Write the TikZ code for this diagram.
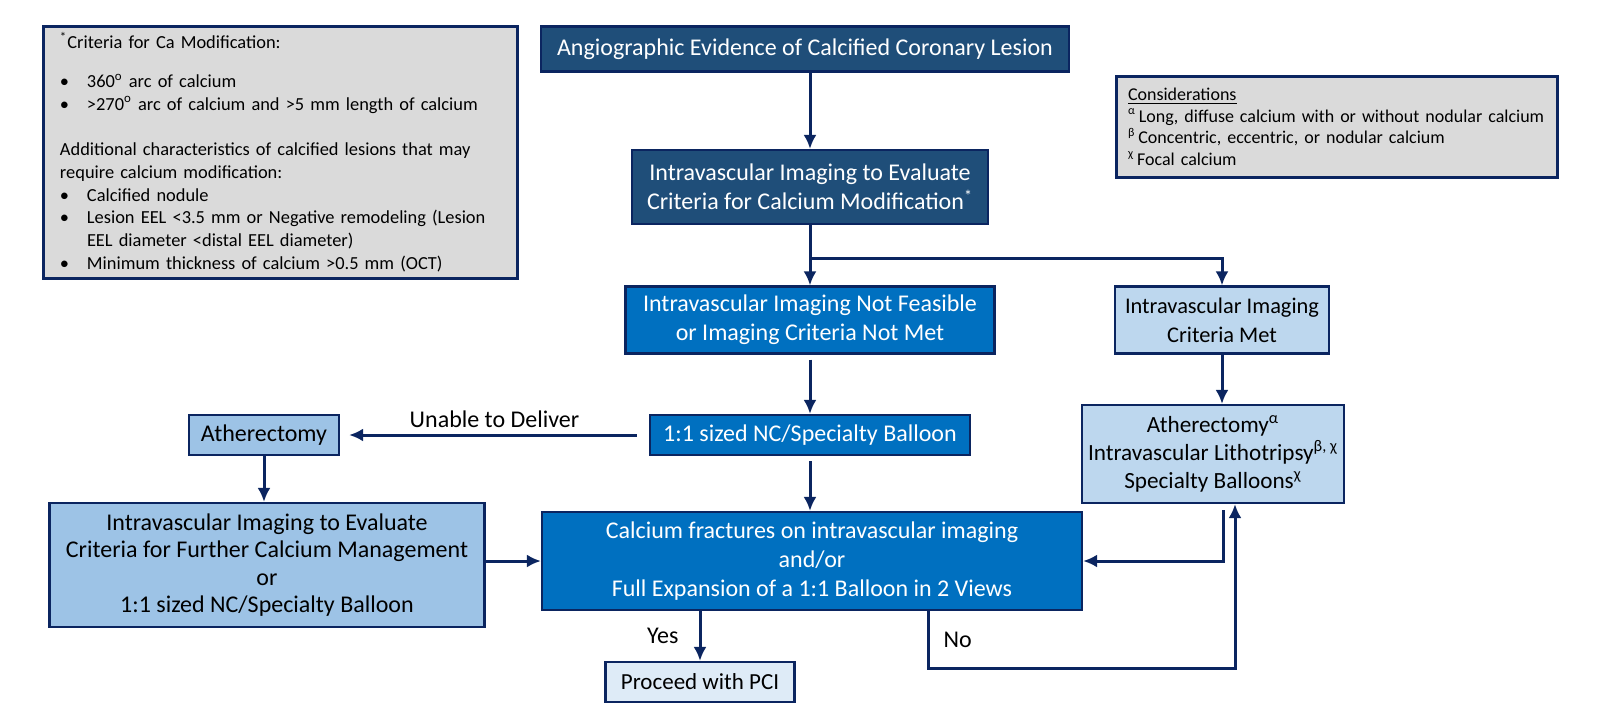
\documentclass[tikz,border=0pt]{standalone}
\usepackage{fontspec}
\setmainfont{Carlito}
\usetikzlibrary{arrows.meta,positioning,calc}
\definecolor{navy}{HTML}{0B2560}
\definecolor{darkfill}{HTML}{1F4E79}
\definecolor{midfill}{HTML}{0070C0}
\definecolor{lightfill}{HTML}{BDD7EE}
\definecolor{palefill}{HTML}{9DC3E6}
\definecolor{palestfill}{HTML}{DEEBF7}
\definecolor{notefill}{HTML}{DADADA}
\newcommand{\bul}{\makebox[13.5pt][l]{\textbullet}}

\begin{document}
\begin{tikzpicture}[
    x=0.5pt, y=-0.5pt,
    every node/.style={font=\fontsize{12}{14.5}\selectfont, inner sep=0pt, align=center},
    box/.style={draw=navy, line width=1.1pt},
    darkstep/.style={box, fill=darkfill, text=white},
    midstep/.style={box, fill=midfill, text=white},
    lightstep/.style={box, fill=lightfill},
    palestep/.style={box, fill=palefill},
    note/.style={draw=navy, line width=1.5pt, fill=notefill, align=left,
                 font=\fontsize{9.2}{11.4}\selectfont},
    arrow/.style={-{Latex[length=7pt, width=6.5pt]}, line width=1.5pt, navy},
    tag/.style={text=black}
]
\useasboundingbox (0,0) rectangle (1618,720);

% ---- side notes ----
\node[note, minimum width=237pt, minimum height=126pt, text width=220pt] (criteria) at (280,152) {%
\textsuperscript{*}Criteria for Ca Modification:\\[8.1pt]
\bul 360\textsuperscript{o} arc of calcium\\
\bul >270\textsuperscript{o} arc of calcium and >5 mm length of calcium\\[11.1pt]
Additional characteristics of calcified lesions that may\\
require calcium modification:\\
\bul Calcified nodule\\
\bul Lesion EEL <3.5 mm or Negative remodeling (Lesion\\
\hspace*{13.5pt}EEL diameter <distal EEL diameter)\\
\bul Minimum thickness of calcium >0.5 mm (OCT)};

\node[note, minimum width=220.5pt, minimum height=50.5pt, text width=209pt,
      font=\fontsize{9}{10.8}\selectfont] (consider) at (1337,127) {%
\underline{Considerations}\\
\textsuperscript{α}\,Long, diffuse calcium with or without nodular calcium\\
\textsuperscript{β}\,Concentric, eccentric, or nodular calcium\\
\textsuperscript{χ}\,Focal calcium};

% ---- main column ----
\node[darkstep, minimum width=264pt, minimum height=22.5pt] (angio) at (805,49)
  {Angiographic Evidence of Calcified Coronary Lesion};
\node[darkstep, minimum width=178pt, minimum height=37pt] (eval) at (810,187)
  {Intravascular Imaging to Evaluate\\Criteria for Calcium Modification\textsuperscript{*}};
\node[midstep, minimum width=184.5pt, minimum height=33.5pt] (notfeas) at (810,320)
  {Intravascular Imaging Not Feasible\\or Imaging Criteria Not Met};
\node[lightstep, minimum width=107pt, minimum height=33.5pt,
      font=\fontsize{11.2}{14.5}\selectfont] (critmet) at (1222,320)
  {Intravascular Imaging\\Criteria Met};
\node[midstep, minimum width=160pt, minimum height=20pt] (balloon) at (810,435)
  {1:1 sized NC/Specialty Balloon};
\node[palestep, minimum width=75pt, minimum height=20pt] (ather) at (264,435)
  {Atherectomy};
\node[palestep, minimum width=217.5pt, minimum height=62pt,
      font=\fontsize{12}{13.8}\selectfont] (further) at (267,565)
  {Intravascular Imaging to Evaluate\\Criteria for Further Calcium Management\\or\\1:1 sized NC/Specialty Balloon};
\node[midstep, minimum width=270pt, minimum height=49pt] (fracture) at (812,561)
  {Calcium fractures on intravascular imaging\\and/or\\Full Expansion of a 1:1 Balloon in 2 Views};
\node[lightstep, minimum width=131pt, minimum height=49pt,
      font=\fontsize{11.6}{14}\selectfont] (options) at (1213,454)
  {Atherectomy\textsuperscript{α}\\Intravascular Lithotripsy\textsuperscript{β, χ}\\Specialty Balloons\textsuperscript{χ}};
\node[box, fill=palestfill, minimum width=94.5pt, minimum height=20pt,
      font=\fontsize{11.5}{14}\selectfont] (proceed) at (700,682)
  {Proceed with PCI};

% ---- connectors ----
\coordinate (split) at (810,258);
\draw[arrow] (eval.north |- angio.south) -- (eval.north);
\draw[arrow] (eval.south) -- (notfeas.north);
\draw[arrow] (split) -| (critmet.north);
\draw[arrow, shorten <=2.5pt] (notfeas.south) -- (balloon.north);
\draw[arrow, shorten <=6pt, shorten >=4.5pt] (balloon.west) -- (ather.east)
  node[tag, midway, above=3pt] {Unable to Deliver};
\draw[arrow] (ather.south) -- (ather.south |- further.north);
\draw[arrow, shorten <=2.5pt] (balloon.south) -- (balloon.south |- fracture.north);
\draw[arrow] (further.east |- fracture.west) -- (fracture.west);
\draw[arrow] (critmet.south) -- (critmet.south |- options.north);
\draw[arrow, shorten <=3pt] ([xshift=5pt]options.south) |- (fracture.east);
\draw[arrow] (proceed.north |- fracture.south) -- (proceed.north)
  node[tag, midway, left=10pt] {Yes};
\draw[arrow] ([xshift=58pt]fracture.south) -- ++(0,57)
  node[tag, midway, right=7pt] {No} -| ([xshift=11pt]options.south);
\end{tikzpicture}
\end{document}
